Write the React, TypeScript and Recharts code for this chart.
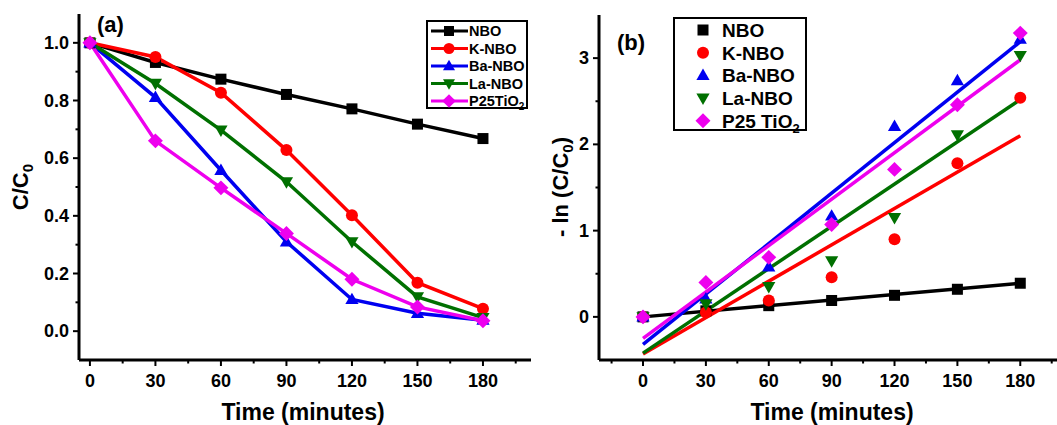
import { ComposedChart, Line, XAxis, YAxis } from 'recharts';

// sampling times (minutes)
const times = [0, 30, 60, 90, 120, 150, 180];

// (a) C/C0
const ratioNBO = [1.0, 0.932, 0.874, 0.821, 0.771, 0.718, 0.668];
const ratioK = [1.0, 0.951, 0.827, 0.628, 0.402, 0.168, 0.078];
const ratioBa = [1.0, 0.811, 0.558, 0.31, 0.11, 0.062, 0.038];
const ratioLa = [1.0, 0.859, 0.697, 0.518, 0.31, 0.119, 0.047];
const ratioP25 = [1.0, 0.66, 0.497, 0.339, 0.18, 0.084, 0.036];

// (b) -ln(C/C0)
const lnNBO = [0, 0.07, 0.13, 0.19, 0.25, 0.32, 0.39];
const lnK = [0, 0.05, 0.19, 0.46, 0.9, 1.78, 2.54];
const lnBa = [0, 0.21, 0.58, 1.17, 2.21, 2.74, 3.22];
const lnLa = [0, 0.15, 0.35, 0.65, 1.15, 2.11, 3.03];
const lnP25 = [0, 0.4, 0.69, 1.07, 1.71, 2.46, 3.29];

// linear fits, end points
const fitTimes = [0, 180];
const fitNBO = [0, 0.39];
const fitK = [-0.43, 2.1];
const fitBa = [-0.32, 3.19];
const fitLa = [-0.42, 2.52];
const fitP25 = [-0.25, 2.98];

// ticks
const xTicksA = [0, 15, 30, 45, 60, 75, 90, 105, 120, 135, 150, 165, 180, 195];
const xTicksB = [-15, 0, 15, 30, 45, 60, 75, 90, 105, 120, 135, 150, 165, 180, 195];
const yTicksA = [0, 0.1, 0.2, 0.3, 0.4, 0.5, 0.6, 0.7, 0.8, 0.9, 1.0];
const yTicksB = [0, 0.5, 1, 1.5, 2, 2.5, 3];

const FONT = '"Liberation Sans", Arial, sans-serif';

const series = [
  { key: 'nbo', name: 'NBO', color: '#000000', shape: 'square' },
  { key: 'k', name: 'K-NBO', color: '#ff0000', shape: 'circle' },
  { key: 'ba', name: 'Ba-NBO', color: '#0000f0', shape: 'triangle' },
  { key: 'la', name: 'La-NBO', color: '#007000', shape: 'down' },
  { key: 'p25', name: 'P25TiO', color: '#ee00ee', shape: 'diamond' },
];

const rowsA = times.map((t, i) => ({
  t, nbo: ratioNBO[i], k: ratioK[i], ba: ratioBa[i], la: ratioLa[i], p25: ratioP25[i],
}));
const rowsB = times.map((t, i) => ({
  t, nbo: lnNBO[i], k: lnK[i], ba: lnBa[i], la: lnLa[i], p25: lnP25[i],
}));
const fitRows = fitTimes.map((t, i) => ({
  t, nbo: fitNBO[i], k: fitK[i], ba: fitBa[i], la: fitLa[i], p25: fitP25[i],
}));

function Marker({ cx, cy, shape, color, s }: any) {
  if (cx == null || cy == null) return null;
  switch (shape) {
    case 'square':
      return <rect x={cx - s / 2} y={cy - s / 2} width={s} height={s} fill={color} />;
    case 'circle':
      return <circle cx={cx} cy={cy} r={s / 2 + 0.5} fill={color} />;
    case 'triangle':
      return <polygon points={`${cx},${cy - s * 0.62} ${cx - s * 0.6},${cy + s * 0.42} ${cx + s * 0.6},${cy + s * 0.42}`} fill={color} />;
    case 'down':
      return <polygon points={`${cx},${cy + s * 0.62} ${cx - s * 0.6},${cy - s * 0.42} ${cx + s * 0.6},${cy - s * 0.42}`} fill={color} />;
    default:
      return <polygon points={`${cx},${cy - s * 0.68} ${cx + s * 0.68},${cy} ${cx},${cy + s * 0.68} ${cx - s * 0.68},${cy}`} fill={color} />;
  }
}

const dotFor = (shape: string, color: string, s: number) => (p: any) => (
  <Marker key={`${shape}-${p.index}`} cx={p.cx} cy={p.cy} shape={shape} color={color} s={s} />
);

const XTick = ({ x, y, payload }: any) => {
  const major = payload.value % 30 === 0;
  return (
    <g>
      <line x1={x} x2={x} y1={y} y2={y + (major ? 6 : 3.5)} stroke="#000" strokeWidth={2} />
      {major && (
        <text x={x} y={y + 27} textAnchor="middle" fontFamily={FONT} fontWeight="bold" fontSize={18} fill="#000">
          {payload.value}
        </text>
      )}
    </g>
  );
};

const YTickA = ({ x, y, payload }: any) => {
  const major = Math.round(payload.value * 10) % 2 === 0;
  return (
    <g>
      <line x1={x} x2={x - (major ? 6 : 3.5)} y1={y} y2={y} stroke="#000" strokeWidth={2} />
      {major && (
        <text x={x - 10} y={y + 6} textAnchor="end" fontFamily={FONT} fontWeight="bold" fontSize={18} fill="#000">
          {payload.value.toFixed(1)}
        </text>
      )}
    </g>
  );
};

const YTickB = ({ x, y, payload }: any) => {
  const major = Number.isInteger(payload.value);
  return (
    <g>
      <line x1={x} x2={x - (major ? 6 : 3.5)} y1={y} y2={y} stroke="#000" strokeWidth={2} />
      {major && (
        <text x={x - 10} y={y + 6} textAnchor="end" fontFamily={FONT} fontWeight="bold" fontSize={18} fill="#000">
          {payload.value}
        </text>
      )}
    </g>
  );
};

const axisLine = { stroke: '#000', strokeWidth: 3 };

export default function App() {
  return (
    <div style={{ position: 'absolute', left: 0, top: 0, width: 1057, height: 425, overflow: 'hidden', background: '#fff' }}>
      {/* (a) C/C0 vs time */}
      <div style={{ position: 'absolute', left: 0, top: 0 }}>
        <ComposedChart width={540} height={425} data={rowsA} margin={{ top: 14, right: 9, bottom: 0, left: 0 }}>
          <XAxis dataKey="t" type="number" domain={[-5, 202]} ticks={xTicksA} interval={0}
            tickSize={0} tickMargin={0} tickLine={false} tick={<XTick />} height={65} axisLine={axisLine} allowDataOverflow />
          <XAxis xAxisId="top" orientation="top" type="number" domain={[-5, 202]} height={0}
            tick={false} tickLine={false} axisLine={axisLine} />
          <YAxis type="number" domain={[-0.1, 1.1]} ticks={yTicksA} interval={0} width={79}
            tickSize={0} tickMargin={0} tickLine={false} tick={<YTickA />} axisLine={axisLine} allowDataOverflow />
          <YAxis yAxisId="right" orientation="right" type="number" domain={[0, 1]} width={0}
            tick={false} tickLine={false} axisLine={axisLine} />
          {series.map((s) => (
            <Line key={s.key} dataKey={s.key} stroke={s.color} strokeWidth={3.5} isAnimationActive={false}
              dot={dotFor(s.shape, s.color, 11)} activeDot={false} />
          ))}
        </ComposedChart>
      </div>

      {/* (b) -ln(C/C0) vs time with linear fits */}
      <div style={{ position: 'absolute', left: 530, top: 0 }}>
        <ComposedChart width={530} height={425} data={rowsB} margin={{ top: 15, right: 2, bottom: 0, left: 0 }}>
          <XAxis dataKey="t" type="number" domain={[-21, 198]} ticks={xTicksB} interval={0}
            tickSize={0} tickMargin={0} tickLine={false} tick={<XTick />} height={65} axisLine={axisLine} allowDataOverflow />
          <XAxis xAxisId="top" orientation="top" type="number" domain={[-21, 198]} height={0}
            tick={false} tickLine={false} axisLine={axisLine} />
          <YAxis type="number" domain={[-0.5, 3.5]} ticks={yTicksB} interval={0} width={69}
            tickSize={0} tickMargin={0} tickLine={false} tick={<YTickB />} axisLine={axisLine} allowDataOverflow />
          {series.map((s) => (
            <Line key={`fit-${s.key}`} data={fitRows} dataKey={s.key} stroke={s.color} strokeWidth={3.5}
              isAnimationActive={false} dot={false} activeDot={false} />
          ))}
          {series.map((s) => (
            <Line key={`pt-${s.key}`} dataKey={s.key} stroke="none" isAnimationActive={false}
              dot={dotFor(s.shape, s.color, 11)} activeDot={false} />
          ))}
        </ComposedChart>
      </div>

      {/* titles and legends */}
      <svg width={1057} height={425} style={{ position: 'absolute', left: 0, top: 0, pointerEvents: 'none' }}
        fontFamily={FONT} fontWeight="bold" fill="#000">
        <text x={97} y={32} fontSize={22}>(a)</text>
        <text x={617} y={50} fontSize={22}>(b)</text>

        <text x={303} y={420} fontSize={23} textAnchor="middle">Time (minutes)</text>
        <text x={832} y={420} fontSize={23} textAnchor="middle">Time (minutes)</text>

        <text x={28} y={187} fontSize={22} textAnchor="middle" transform="rotate(-90 28 187)">
          C/C<tspan fontSize={15} dy={5}>0</tspan>
        </text>
        <text x={568} y={187} fontSize={22} textAnchor="middle" transform="rotate(-90 568 187)">
          - ln (C/C<tspan fontSize={15} dy={5}>0</tspan><tspan dy={-5}>)</tspan>
        </text>

        {/* legend (a) */}
        <rect x={427} y={21} width={100} height={87} fill="#fff" stroke="#000" strokeWidth={2} />
        {series.map((s, i) => {
          const cy = 31 + i * 17.5;
          return (
            <g key={`la-${s.key}`}>
              <line x1={431} x2={468} y1={cy} y2={cy} stroke={s.color} strokeWidth={3} />
              <Marker cx={449} cy={cy} shape={s.shape} color={s.color} s={10} />
              <text x={469} y={cy + 5} fontSize={14.5}>
                {s.name}{s.key === 'p25' && <tspan fontSize={10} dy={4}>2</tspan>}
              </text>
            </g>
          );
        })}

        {/* legend (b) */}
        <rect x={674} y={18} width={132} height={112} fill="#fff" stroke="#000" strokeWidth={2} />
        {series.map((s, i) => {
          const cy = 30 + i * 22.7;
          return (
            <g key={`lb-${s.key}`}>
              <Marker cx={703} cy={cy} shape={s.shape} color={s.color} s={11} />
              <text x={722} y={cy + 7} fontSize={19}>
                {s.key === 'p25' ? 'P25 TiO' : s.name}{s.key === 'p25' && <tspan fontSize={13} dy={5}>2</tspan>}
              </text>
            </g>
          );
        })}
      </svg>
    </div>
  );
}
